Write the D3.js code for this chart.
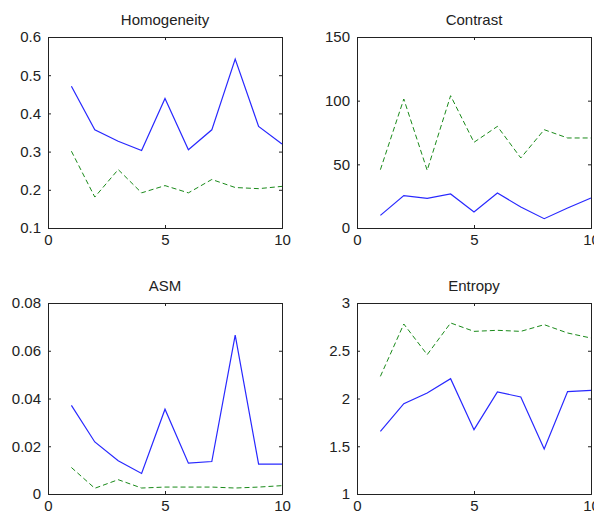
<!DOCTYPE html>
<html>
<head>
<meta charset="utf-8">
<script src="https://cdn.jsdelivr.net/npm/d3@7"></script>
<style>
  body { margin: 0; background: #fff; }
  svg text { font-family: "Liberation Sans", Arial, sans-serif; fill: #222; }
</style>
</head>
<body>
<div id="chart"></div>
<script>
// sample index 1..10
const idx = [1, 2, 3, 4, 5, 6, 7, 8, 9, 10];

const homogeneityA = [0.471, 0.357, 0.327, 0.303, 0.439, 0.305, 0.357, 0.542, 0.366, 0.320];
const homogeneityB = [0.301, 0.181, 0.253, 0.192, 0.211, 0.192, 0.227, 0.206, 0.203, 0.209];

const contrastA = [9.9, 25.4, 23.3, 26.7, 12.6, 27.5, 16.5, 7.3, 15.7, 23.6];
const contrastB = [45.8, 101.3, 45.3, 103.9, 67.3, 79.8, 55.0, 77.2, 70.7, 70.7];

const asmA = [0.0371, 0.0218, 0.0139, 0.0086, 0.0355, 0.0129, 0.0136, 0.0665, 0.0125, 0.0125];
const asmB = [0.0111, 0.0024, 0.0060, 0.0025, 0.0029, 0.0029, 0.0029, 0.0025, 0.0029, 0.0035];

const entropyA = [1.656, 1.946, 2.058, 2.208, 1.674, 2.068, 2.016, 1.471, 2.072, 2.086];
const entropyB = [2.232, 2.780, 2.459, 2.791, 2.703, 2.714, 2.703, 2.773, 2.686, 2.633];

const xTicks = [0, 5, 10];
const homogeneityTicks = [0.1, 0.2, 0.3, 0.4, 0.5, 0.6];
const contrastTicks = [0, 50, 100, 150];
const asmTicks = [0, 0.02, 0.04, 0.06, 0.08];
const entropyTicks = [1, 1.5, 2, 2.5, 3];

const panels = [
    {title: "Homogeneity", a: homogeneityA, b: homogeneityB, ticks: homogeneityTicks,
     fmt: d3.format(".1f"), left: 48, top: 37},
    {title: "Contrast", a: contrastA, b: contrastB, ticks: contrastTicks,
     fmt: d3.format("d"), left: 357, top: 37},
    {title: "ASM", a: asmA, b: asmB, ticks: asmTicks,
     fmt: d => d === 0 ? "0" : d3.format(".2f")(d), left: 48, top: 303},
    {title: "Entropy", a: entropyA, b: entropyB, ticks: entropyTicks,
     fmt: d => String(d), left: 357, top: 303}
];

const W = 594, H = 516;
const pw = 234, ph = 191;
const tickLen = 3;

const svg = d3.select("#chart").append("svg")
    .attr("width", W)
    .attr("height", H);

panels.forEach(p => {
    const yDomain = d3.extent(p.ticks);
    const x = d3.scaleLinear().domain([0, 10]).range([0, pw]);
    const y = d3.scaleLinear().domain(yDomain).range([ph, 0]);

    const g = svg.append("g")
        .attr("transform", `translate(${p.left}, ${p.top})`);

    // inward ticks on all four sides (matlab box)
    g.append("g")
        .attr("transform", `translate(0, ${ph})`)
        .call(d3.axisBottom(x).tickValues(xTicks).tickSize(-tickLen).tickPadding(6).tickFormat(d3.format("d")));
    g.append("g")
        .call(d3.axisTop(x).tickValues(xTicks).tickSize(-tickLen).tickFormat(""));
    g.append("g")
        .call(d3.axisLeft(y).tickValues(p.ticks).tickSize(-tickLen).tickPadding(7).tickFormat(p.fmt));
    g.append("g")
        .attr("transform", `translate(${pw}, 0)`)
        .call(d3.axisRight(y).tickValues(p.ticks).tickSize(-tickLen).tickFormat(""));

    g.selectAll(".domain").attr("stroke", "#222").attr("stroke-width", 1);
    g.selectAll(".tick line").attr("stroke", "#222");
    g.selectAll(".tick text").style("font-size", "15px");

    const line = d3.line()
        .x((d, i) => x(idx[i]))
        .y(d => y(d));

    g.append("path")
        .datum(p.b)
        .attr("d", line)
        .attr("fill", "none")
        .attr("stroke", "#1a8a1a")
        .attr("stroke-width", 1)
        .attr("stroke-dasharray", "5,3");

    g.append("path")
        .datum(p.a)
        .attr("d", line)
        .attr("fill", "none")
        .attr("stroke", "#2828ff")
        .attr("stroke-width", 1.2);

    g.append("text")
        .attr("x", pw / 2)
        .attr("y", -12)
        .attr("text-anchor", "middle")
        .style("font-size", "15px")
        .text(p.title);
});
</script>
</body>
</html>
